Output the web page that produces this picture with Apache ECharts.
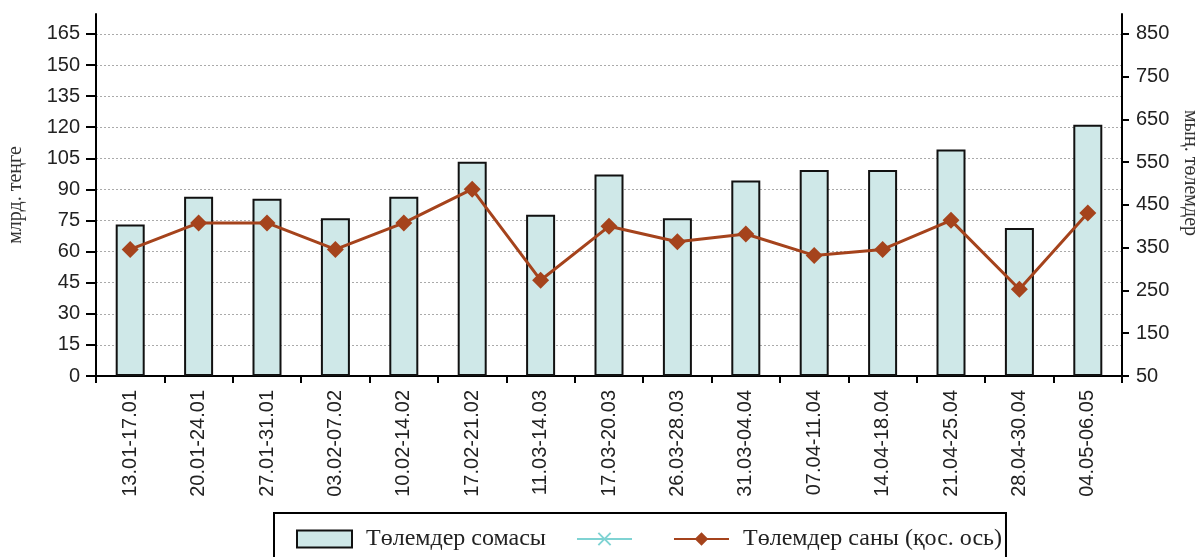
<!DOCTYPE html>
<html>
<head>
<meta charset="utf-8">
<script src="https://cdn.jsdelivr.net/npm/echarts@6/dist/echarts.min.js"></script>
<style>
html,body{margin:0;padding:0;background:#fff;}
#chart{width:1201px;height:557px;}
</style>
</head>
<body>
<div id="chart"></div>
<script>
var categories = ['13.01-17.01','20.01-24.01','27.01-31.01','03.02-07.02','10.02-14.02','17.02-21.02','11.03-14.03','17.03-20.03','26.03-28.03','31.03-04.04','07.04-11.04','14.04-18.04','21.04-25.04','28.04-30.04','04.05-06.05'];
var paymentSum = [73.1, 86.5, 85.5, 76.1, 86.5, 103.3, 77.8, 97.2, 76.1, 94.3, 99.3, 99.3, 109.2, 71.4, 121.2];
var paymentCount = [346, 408, 408, 346, 408, 487, 274, 400, 364, 382, 332, 346, 414, 253, 431];
var leftTicks = [0, 15, 30, 45, 60, 75, 90, 105, 120, 135, 150, 165];
var rightTicks = [50, 150, 250, 350, 450, 550, 650, 750, 850];

var seriesNames = ['Төлемдер сомасы', ' ', 'Төлемдер саны (қос. ось)'];
var xPath = 'path://M0,1 L1,0 L5,4 L9,0 L10,1 L6,5 L10,9 L9,10 L5,6 L1,10 L0,9 L4,5 Z';

var chart = echarts.init(document.getElementById('chart'), null, {renderer: 'canvas'});
var sansFont = 'Liberation Sans, Arial, sans-serif';
var serifFont = 'Liberation Serif, Times New Roman, serif';

chart.setOption({
  animation: false,
  backgroundColor: '#ffffff',
  grid: {left: 96, right: 79, top: 14, bottom: 181, containLabel: false, outerBoundsMode: 'none'},
  legend: {
    data: [
      {name: seriesNames[0], icon: 'rect'},
      {name: seriesNames[1], textStyle: {padding: 0}},
      {name: seriesNames[2]}
    ],
    left: 274, top: 513,
    padding: [14, 4, 20, 22],
    borderColor: '#000', borderWidth: 2,
    itemWidth: 55, itemHeight: 17, itemGap: 30,
    textStyle: {fontFamily: serifFont, fontSize: 24, color: '#222', padding: [0, 0, 0, 9]}
  },
  xAxis: {
    type: 'category',
    data: categories,
    axisLine: {lineStyle: {color: '#000', width: 2}},
    axisTick: {show: true, length: 7, lineStyle: {color: '#000', width: 2}, alignWithLabel: false},
    axisLabel: {rotate: 90, fontFamily: sansFont, fontSize: 20, color: '#222', margin: 14, interval: 0},
    splitLine: {show: false}
  },
  yAxis: [{
    type: 'value',
    min: 0, max: 174.6,
    name: 'млрд. теңге',
    nameLocation: 'middle',
    nameGap: 70,
    nameRotate: 90,
    nameTextStyle: {fontFamily: serifFont, fontSize: 20, color: '#333'},
    axisLine: {show: true, lineStyle: {color: '#000', width: 2}},
    axisTick: {show: true, length: 10, lineStyle: {color: '#000', width: 2}, customValues: leftTicks},
    axisLabel: {fontFamily: sansFont, fontSize: 20, color: '#222', margin: 16, customValues: leftTicks},
    splitLine: {show: true, lineStyle: {color: '#aaa', type: [2, 2], width: 1}}
  }, {
    type: 'value',
    min: 50, max: 50 + 174.6 * 800 / 165,
    name: 'мың. төлемдер',
    nameLocation: 'middle',
    nameGap: 56,
    nameRotate: -90,
    nameTextStyle: {fontFamily: serifFont, fontSize: 20, color: '#333', padding: [0, 44, 0, 0]},
    position: 'right',
    axisLine: {show: true, lineStyle: {color: '#000', width: 2}},
    axisTick: {show: true, length: 7, lineStyle: {color: '#000', width: 2}, customValues: rightTicks},
    axisLabel: {fontFamily: sansFont, fontSize: 20, color: '#222', margin: 14, customValues: rightTicks},
    splitLine: {show: false}
  }],
  series: [{
    name: seriesNames[0],
    type: 'bar',
    data: paymentSum,
    barWidth: 29,
    itemStyle: {color: '#cfe8e8', borderColor: '#111', borderWidth: 2},
    z: 2
  }, {
    name: seriesNames[1],
    type: 'line',
    data: [],
    symbol: xPath,
    symbolSize: 12,
    lineStyle: {color: '#7fd3d3', width: 2},
    itemStyle: {color: '#7fd3d3'}
  }, {
    name: seriesNames[2],
    type: 'line',
    yAxisIndex: 1,
    data: paymentCount,
    symbol: 'diamond',
    symbolSize: 17,
    lineStyle: {color: '#a5431c', width: 3},
    itemStyle: {color: '#a5431c'},
    z: 3
  }]
});
</script>
</body>
</html>
